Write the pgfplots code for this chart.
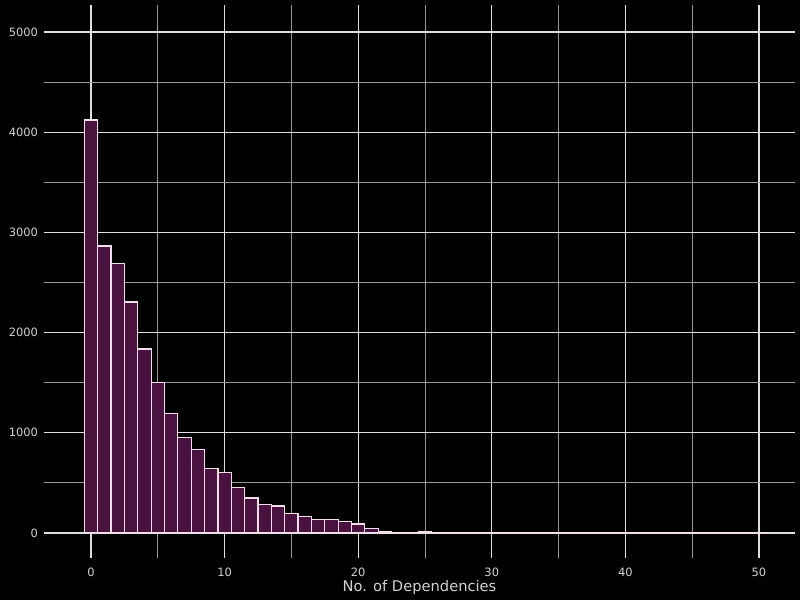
\documentclass[border=0pt]{standalone}
\usepackage{fontspec}
\setmainfont{DejaVu Sans}
\usepackage{pgfplots}
\pgfplotsset{compat=1.18}

\definecolor{barfill}{RGB}{74,18,62}
\definecolor{baredge}{RGB}{240,222,232}
\definecolor{majgrid}{RGB}{222,222,222}
\definecolor{mingrid}{RGB}{150,150,150}
\definecolor{txt}{RGB}{210,210,210}

\begin{document}
\begin{tikzpicture}
\fill[black] (0,0) rectangle (600pt,450pt);
\useasboundingbox (0,0) rectangle (600pt,450pt);
\begin{axis}[
  at={(33pt,31.5pt)}, anchor=south west,
  scale only axis,
  width=563.25pt, height=414.75pt,
  xmin=-3.52, xmax=52.7,
  ymin=-250, ymax=5270,
  xtick={0,10,...,50},
  minor xtick={5,15,...,45},
  ytick={0,1000,...,5000},
  minor ytick={500,1500,...,4500},
  grid=both,
  major grid style={majgrid, line width=1pt},
  minor grid style={mingrid, line width=0.7pt},
  axis line style={draw=none},
  tick style={draw=none},
  major tick length=0pt, minor tick length=0pt,
  /pgf/number format/1000 sep={},
  /pgf/number format/assume math mode=true,
  tick label style={font=\fontsize{8.6}{10}\selectfont, text=txt},
  xticklabel style={yshift=-4pt},
  yticklabel style={xshift=-1pt},
  xlabel={No. of Dependencies},
  xlabel style={font=\fontsize{11}{13}\selectfont, text=txt, yshift=4pt},
  clip=false,
]
\addplot[ybar, bar width=1, fill=barfill, draw=baredge, line width=0.9pt]
  coordinates {
  (0,4122) (1,2864) (2,2688) (3,2305) (4,1836) (5,1500) (6,1195) (7,951)
  (8,832) (9,642) (10,602) (11,456) (12,349) (13,286) (14,269) (15,196)
  (16,167) (17,137) (18,133) (19,117) (20,90) (21,43) (22,17) (23,7)
  (24,7) (25,17) (26,4) (27,3) (28,3) (29,1) (30,2) (31,1) (32,1) (33,1)
  (34,0) (35,1) (36,1) (37,0) (38,1) (39,0) (40,1) (41,0) (42,1) (43,0)
  (44,0) (45,1) (46,0) (47,0) (48,0) (49,1) (50,1)
  };
\end{axis}
\end{tikzpicture}
\end{document}
